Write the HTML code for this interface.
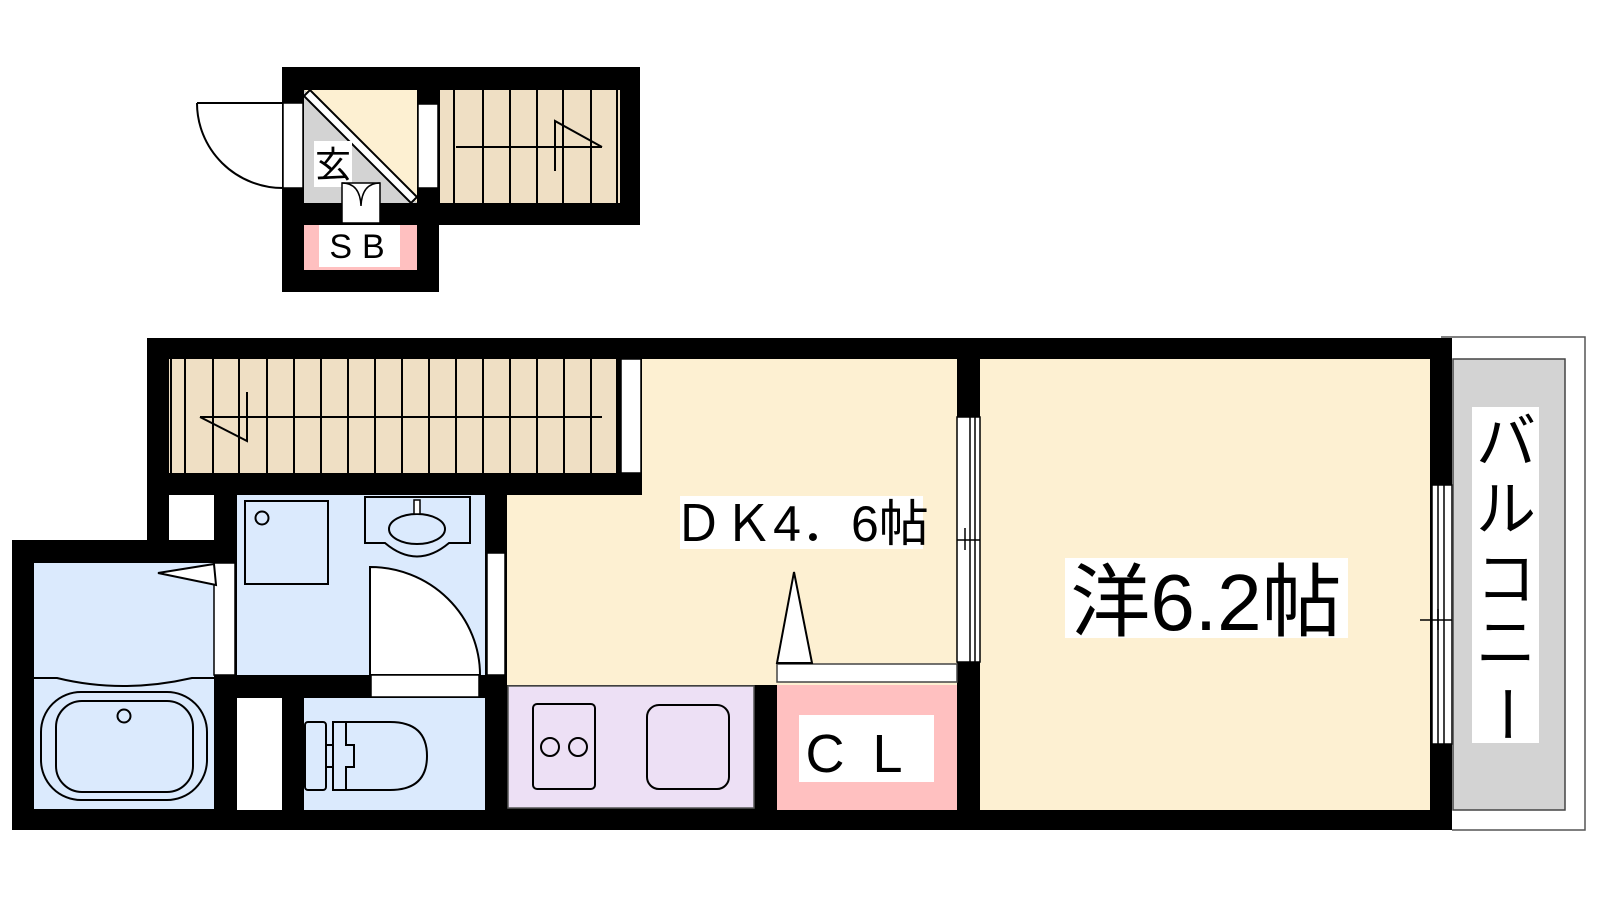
<!DOCTYPE html>
<html><head><meta charset="utf-8"><style>html,body{margin:0;padding:0;background:#fff}svg{display:block}</style></head>
<body>
<svg width="1600" height="900" viewBox="0 0 1600 900" xmlns="http://www.w3.org/2000/svg" font-family="'Liberation Sans','Noto Sans CJK JP',sans-serif">
<rect x="282" y="67" width="358" height="158" fill="#000"/>
<rect x="282" y="67" width="157" height="225" fill="#000"/>
<polygon points="304,90 417,90 417,203" fill="#fdf0d2"/>
<polygon points="304,90 304,203 417,203" fill="#d3d3d3"/>
<polygon points="304,96 310,90 417,197 411,203" fill="#fff" stroke="#000" stroke-width="2"/>
<rect x="283" y="103" width="20" height="85" fill="#fff" stroke="#000" stroke-width="1.5"/>
<path d="M197,103 L283,103 M197,103 A86,85 0 0 0 283,188" fill="none" stroke="#000" stroke-width="2"/>
<rect x="314" y="141" width="38" height="46" fill="#fff"/>
<text x="333" y="177" font-size="36" text-anchor="middle">玄</text>
<rect x="342" y="183" width="38" height="40" fill="#fff" stroke="#000" stroke-width="1.5"/>
<path d="M342,183 Q360,183 361,206 Q362,183 380,183" fill="none" stroke="#000" stroke-width="1.5"/>
<rect x="418" y="104" width="20" height="84" fill="#fff" stroke="#000" stroke-width="1.5"/>
<rect x="440" y="90" width="180" height="113" fill="#efdfc4"/>
<g stroke="#000" stroke-width="2">
<line x1="454" y1="90" x2="454" y2="203"/><line x1="483" y1="90" x2="483" y2="203"/><line x1="510" y1="90" x2="510" y2="203"/><line x1="537" y1="90" x2="537" y2="203"/><line x1="563" y1="90" x2="563" y2="203"/><line x1="591" y1="90" x2="591" y2="203"/><line x1="617" y1="90" x2="617" y2="203"/>
<line x1="456" y1="147" x2="602" y2="147"/>
<polyline points="555,171 555,121 602,147" fill="none"/>
</g>
<rect x="304" y="225" width="113" height="45" fill="#ffc0c0"/>
<rect x="319" y="225" width="81" height="42" fill="#fff"/>
<text x="362" y="258" font-size="34" text-anchor="middle" letter-spacing="10">SB</text>

<polygon points="147,338 1452,338 1452,830 12,830 12,540 147,540" fill="#000"/>
<rect x="169" y="359" width="448" height="114" fill="#efdfc4"/>
<g stroke="#000" stroke-width="2">
<line x1="171" y1="359" x2="171" y2="473"/>
<line x1="185" y1="359" x2="185" y2="473"/><line x1="213" y1="359" x2="213" y2="473"/><line x1="239" y1="359" x2="239" y2="473"/><line x1="267" y1="359" x2="267" y2="473"/><line x1="294" y1="359" x2="294" y2="473"/><line x1="321" y1="359" x2="321" y2="473"/><line x1="348" y1="359" x2="348" y2="473"/><line x1="375" y1="359" x2="375" y2="473"/><line x1="402" y1="359" x2="402" y2="473"/><line x1="429" y1="359" x2="429" y2="473"/><line x1="456" y1="359" x2="456" y2="473"/><line x1="483" y1="359" x2="483" y2="473"/><line x1="510" y1="359" x2="510" y2="473"/><line x1="537" y1="359" x2="537" y2="473"/><line x1="564" y1="359" x2="564" y2="473"/><line x1="591" y1="359" x2="591" y2="473"/><line x1="617" y1="359" x2="617" y2="473"/>
<line x1="200" y1="417" x2="602" y2="417"/>
<polyline points="247,392 247,441 200,417" fill="none"/>
</g>
<rect x="621" y="359" width="20" height="114" fill="#fff" stroke="#000" stroke-width="1.5"/>
<rect x="642" y="359" width="315" height="136" fill="#fdf0d2"/>
<rect x="507" y="495" width="450" height="190" fill="#fdf0d2"/>
<rect x="980" y="359" width="450" height="451" fill="#fdf0d2"/>
<rect x="169" y="495" width="45" height="45" fill="#fff"/>
<rect x="34" y="563" width="180" height="246" fill="#dbeafd"/>
<path d="M34,678 L57,678 Q122,694 192,678 L214,678" fill="none" stroke="#000" stroke-width="2"/>
<rect x="41" y="692" width="166" height="108" rx="40" fill="none" stroke="#000" stroke-width="2"/>
<rect x="56" y="701" width="137" height="91" rx="26" fill="none" stroke="#000" stroke-width="2"/>
<circle cx="124" cy="716" r="6.5" fill="none" stroke="#000" stroke-width="2"/>
<rect x="214" y="563" width="21" height="112" fill="#fff" stroke="#000" stroke-width="1.5"/>
<polygon points="214,564 158,573 216,585" fill="#fff" stroke="#000" stroke-width="2"/>
<rect x="237" y="495" width="248" height="180" fill="#dbeafd"/>
<rect x="245" y="501" width="83" height="83" fill="none" stroke="#000" stroke-width="2"/>
<circle cx="262" cy="518" r="6.5" fill="none" stroke="#000" stroke-width="2"/>
<path d="M365,497 L470,497 L470,543 L449,543 Q417,570 385,543 L365,543 Z" fill="none" stroke="#000" stroke-width="2"/>
<ellipse cx="417" cy="529" rx="28" ry="15" fill="none" stroke="#000" stroke-width="2"/>
<rect x="414" y="500" width="6" height="14" fill="#fff" stroke="#000" stroke-width="1.5"/>
<path d="M370,675 L370,567 A110,108 0 0 1 480,675 Z" fill="#fff" stroke="#000" stroke-width="2"/>
<rect x="371" y="675" width="108" height="22" fill="#fff" stroke="#000" stroke-width="1.5"/>
<rect x="487" y="553" width="18" height="122" fill="#fff" stroke="#000" stroke-width="1.5"/>
<rect x="237" y="698" width="45" height="112" fill="#fff"/>
<rect x="304" y="698" width="181" height="112" fill="#dbeafd"/>
<rect x="305" y="722" width="21" height="68" rx="3" fill="none" stroke="#000" stroke-width="2"/>
<path d="M333,722 L390,722 Q427,722 427,756 Q427,790 390,790 L333,790 Z" fill="none" stroke="#000" stroke-width="2"/>
<path d="M346,722 L346,745 L354,745 L354,767 L346,767 L346,790" fill="none" stroke="#000" stroke-width="2"/>
<line x1="326" y1="745" x2="333" y2="745" stroke="#000" stroke-width="2"/>
<line x1="326" y1="767" x2="333" y2="767" stroke="#000" stroke-width="2"/>
<rect x="508" y="686" width="246" height="122" fill="#ede0f5" stroke="#555" stroke-width="1.5"/>
<rect x="533" y="704" width="62" height="85" rx="4" fill="none" stroke="#000" stroke-width="2"/>
<circle cx="550" cy="747" r="9" fill="none" stroke="#000" stroke-width="2"/>
<circle cx="578" cy="747" r="9" fill="none" stroke="#000" stroke-width="2"/>
<rect x="647" y="705" width="82" height="84" rx="12" fill="none" stroke="#000" stroke-width="2"/>
<rect x="777" y="664" width="180" height="18" fill="#fff" stroke="#444" stroke-width="1.5"/>
<rect x="777" y="685" width="180" height="125" fill="#ffc0c0"/>
<rect x="799" y="715" width="135" height="67" fill="#fff"/>
<text x="868" y="772" font-size="54" text-anchor="middle" letter-spacing="28">CL</text>
<polygon points="794,572 777,663 812,663" fill="#fff" stroke="#000" stroke-width="2"/>
<rect x="680" y="496" width="243" height="53" fill="#fff"/>
<text x="801" y="541" font-size="50" text-anchor="middle">ＤＫ4．6帖</text>
<rect x="957" y="417" width="23" height="245" fill="#fff" stroke="#000" stroke-width="1.5"/>
<line x1="970" y1="417" x2="970" y2="662" stroke="#000" stroke-width="1.5"/>
<line x1="975" y1="417" x2="975" y2="662" stroke="#000" stroke-width="1.5"/>
<line x1="957" y1="540" x2="980" y2="540" stroke="#000" stroke-width="1.5"/>
<line x1="965" y1="528" x2="965" y2="550" stroke="#000" stroke-width="1.5"/>
<rect x="1065" y="558" width="283" height="80" fill="#fff"/>
<text x="1206" y="630" font-size="80" text-anchor="middle">洋6.2帖</text>
<rect x="1432" y="485" width="20" height="259" fill="#fff" stroke="#000" stroke-width="1.5"/>
<line x1="1438" y1="485" x2="1438" y2="744" stroke="#000" stroke-width="1.5"/>
<line x1="1444" y1="485" x2="1444" y2="744" stroke="#000" stroke-width="1.5"/>
<line x1="1420" y1="620" x2="1462" y2="620" stroke="#000" stroke-width="1.5"/>
<line x1="1438" y1="609" x2="1438" y2="630" stroke="#000" stroke-width="1.5"/>
<polyline points="1441,337 1585,337 1585,830 1452,830" fill="none" stroke="#555" stroke-width="1.5"/>
<rect x="1453" y="359" width="112" height="451" fill="#d3d3d3" stroke="#444" stroke-width="1.5"/>
<rect x="1472" y="407" width="67" height="336" fill="#fff"/>
<g font-size="60" text-anchor="middle">
<text x="1506" y="463">バ</text>
<text x="1506" y="530">ル</text>
<text x="1506" y="600">コ</text>
<text x="1506" y="664">ニ</text>
<text x="1506" y="735" transform="rotate(90 1506 714)">ー</text>
</g>
</svg>
</body></html>
